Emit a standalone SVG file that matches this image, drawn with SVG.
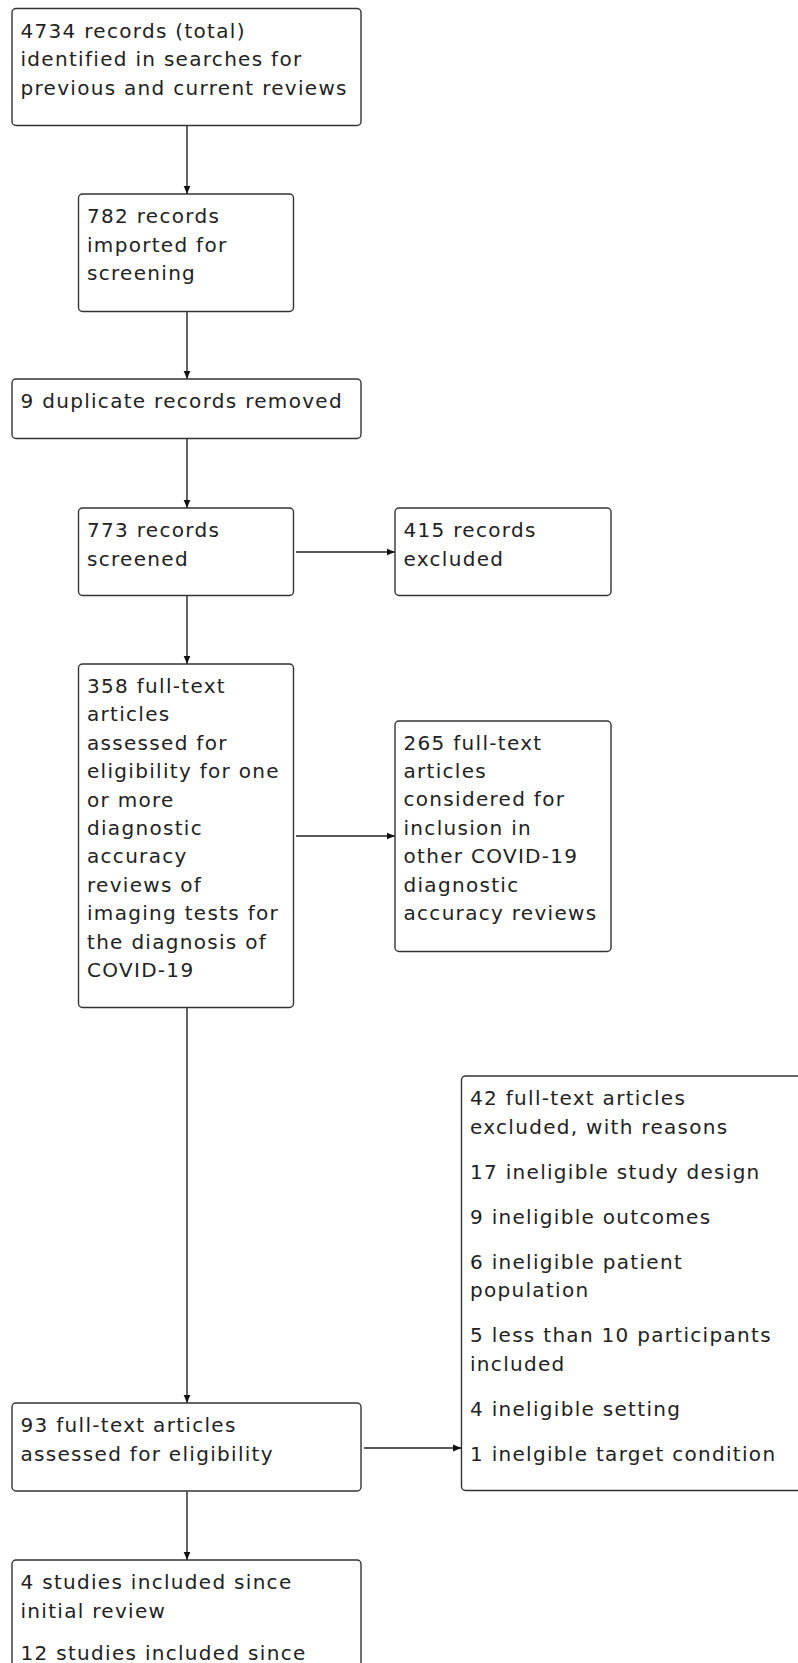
<svg xmlns="http://www.w3.org/2000/svg" width="798" height="1663" viewBox="0 0 798 1663">
<style>
.box{fill:#fff;stroke:#333;stroke-width:1.4}
.t{font-family:"DejaVu Sans",Verdana,sans-serif;font-size:20px;letter-spacing:1.3px;fill:#222}
.c{stroke:#222;stroke-width:1.4;fill:none}
</style>
<defs>
<marker id="ah" markerUnits="userSpaceOnUse" markerWidth="10" markerHeight="9" refX="8.5" refY="4.5" orient="auto">
<path d="M0,1 L8.5,4.5 L0,8 Z" fill="#111"/>
</marker>
</defs>
<rect width="798" height="1663" fill="#fff"/>
<g id="connectors">
<line class="c" x1="187" y1="125.5" x2="187" y2="194" marker-end="url(#ah)"/>
<line class="c" x1="187" y1="311.5" x2="187" y2="379" marker-end="url(#ah)"/>
<line class="c" x1="187" y1="438.5" x2="187" y2="508" marker-end="url(#ah)"/>
<line class="c" x1="187" y1="595.5" x2="187" y2="664" marker-end="url(#ah)"/>
<line class="c" x1="187" y1="1007.5" x2="187" y2="1403" marker-end="url(#ah)"/>
<line class="c" x1="187" y1="1491.5" x2="187" y2="1560" marker-end="url(#ah)"/>
<line class="c" x1="296" y1="552" x2="395" y2="552" marker-end="url(#ah)"/>
<line class="c" x1="296" y1="836" x2="395" y2="836" marker-end="url(#ah)"/>
<line class="c" x1="364" y1="1448" x2="461.5" y2="1448" marker-end="url(#ah)"/>
</g>
<g id="n1">
<rect class="box" x="12" y="8.5" width="349" height="117" rx="4"/>
<text class="t" x="20.5" y="37.5">4734 records (total)</text>
<text class="t" x="20.5" y="66">identified in searches for</text>
<text class="t" x="20.5" y="94.5">previous and current reviews</text>
</g>
<g id="n2">
<rect class="box" x="78.5" y="194" width="215" height="117.5" rx="4"/>
<text class="t" x="87" y="223">782 records</text>
<text class="t" x="87" y="251.5">imported for</text>
<text class="t" x="87" y="280">screening</text>
</g>
<g id="n3">
<rect class="box" x="12" y="379" width="349" height="59.5" rx="4"/>
<text class="t" x="20.5" y="408">9 duplicate records removed</text>
</g>
<g id="n4">
<rect class="box" x="78.5" y="508" width="215" height="87.5" rx="4"/>
<text class="t" x="87" y="537">773 records</text>
<text class="t" x="87" y="565.5">screened</text>
</g>
<g id="n5">
<rect class="box" x="395" y="508" width="216" height="87.5" rx="4"/>
<text class="t" x="403.5" y="537">415 records</text>
<text class="t" x="403.5" y="565.5">excluded</text>
</g>
<g id="n6">
<rect class="box" x="78.5" y="664" width="215" height="343.5" rx="4"/>
<text class="t" x="87" y="693">358 full-text</text>
<text class="t" x="87" y="721.4">articles</text>
<text class="t" x="87" y="749.8">assessed for</text>
<text class="t" x="87" y="778.2">eligibility for one</text>
<text class="t" x="87" y="806.6">or more</text>
<text class="t" x="87" y="835">diagnostic</text>
<text class="t" x="87" y="863.4">accuracy</text>
<text class="t" x="87" y="891.8">reviews of</text>
<text class="t" x="87" y="920.2">imaging tests for</text>
<text class="t" x="87" y="948.6">the diagnosis of</text>
<text class="t" x="87" y="977">COVID-19</text>
</g>
<g id="n7">
<rect class="box" x="395" y="721" width="216" height="230.5" rx="4"/>
<text class="t" x="403.5" y="749.5">265 full-text</text>
<text class="t" x="403.5" y="777.9">articles</text>
<text class="t" x="403.5" y="806.3">considered for</text>
<text class="t" x="403.5" y="834.7">inclusion in</text>
<text class="t" x="403.5" y="863.1">other COVID-19</text>
<text class="t" x="403.5" y="891.5">diagnostic</text>
<text class="t" x="403.5" y="919.9">accuracy reviews</text>
</g>
<g id="n8">
<rect class="box" x="461.5" y="1076" width="350" height="414.5" rx="4"/>
<text class="t" x="470" y="1105">42 full-text articles</text>
<text class="t" x="470" y="1133.5">excluded, with reasons</text>
<text class="t" x="470" y="1178.5">17 ineligible study design</text>
<text class="t" x="470" y="1223.5">9 ineligible outcomes</text>
<text class="t" x="470" y="1268.5">6 ineligible patient</text>
<text class="t" x="470" y="1297">population</text>
<text class="t" x="470" y="1342">5 less than 10 participants</text>
<text class="t" x="470" y="1370.5">included</text>
<text class="t" x="470" y="1415.5">4 ineligible setting</text>
<text class="t" x="470" y="1460.5">1 inelgible target condition</text>
</g>
<g id="n9">
<rect class="box" x="12" y="1403" width="349" height="88" rx="4"/>
<text class="t" x="20.5" y="1432">93 full-text articles</text>
<text class="t" x="20.5" y="1460.5">assessed for eligibility</text>
</g>
<g id="n10">
<rect class="box" x="12" y="1560" width="349" height="140" rx="4"/>
<text class="t" x="20.5" y="1589">4 studies included since</text>
<text class="t" x="20.5" y="1617.5">initial review</text>
<text class="t" x="20.5" y="1660">12 studies included since</text>
</g>
</svg>
